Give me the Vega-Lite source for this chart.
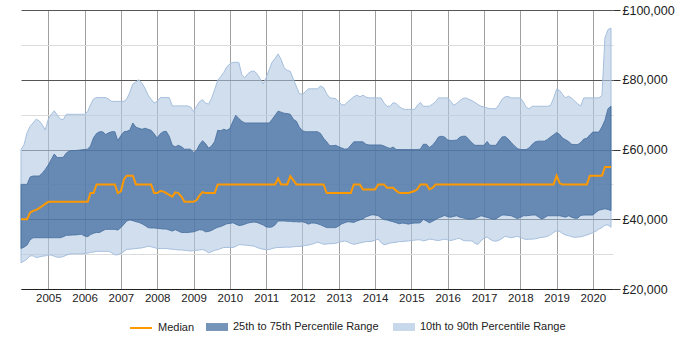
{
  "$schema": "https://vega.github.io/schema/vega-lite/v6.json",
  "width": 592,
  "height": 279,
  "autosize": {"type": "none"},
  "padding": {"left": 21, "top": 10, "right": 87, "bottom": 61},
  "background": "white",
  "config": {
    "view": {"stroke": null},
    "axisY": {
      "orient": "right", "title": null, "domain": false,
      "values": [20000,24000,28000,32000,36000,40000,44000,48000,52000,56000,60000,64000,68000,72000,76000,80000,84000,88000,92000,96000,100000],
      "labelExpr": "datum.value % 20000 === 0 ? '£' + format(datum.value, ',') : ''",
      "grid": true,
      "gridColor": {"condition": {"test": "datum.value % 20000 === 0", "value": "#555555"}, "value": "#dcdcdc"},
      "tickColor": {"condition": {"test": "datum.value % 20000 === 0", "value": "#333333"}, "value": "transparent"},
      "tickSize": 7,
      "labelFont": "Liberation Sans", "labelFontSize": 12.5, "labelColor": "#222222",
      "labelPadding": 2, "labelOverlap": false, "labelFlush": false
    },
    "legend": {
      "title": null, "orient": "none", "direction": "horizontal", "padding": 0,
      "labelFont": "Liberation Sans", "labelFontSize": 11, "labelColor": "#222222",
      "labelOffset": 5, "columnPadding": 14, "symbolSize": 484, "legendY": 306
    }
  },
  "data": {"values": [
    {"date":"2004-04-01","p10":27500,"p25":31600,"med":40000,"p75":50000,"p90":60000},
    {"date":"2004-05-01","p10":28000,"p25":32000,"med":40000,"p75":50000,"p90":61300},
    {"date":"2004-06-01","p10":28600,"p25":32600,"med":40000,"p75":50000,"p90":64800},
    {"date":"2004-07-01","p10":29500,"p25":34100,"med":41900,"p75":52100,"p90":66600},
    {"date":"2004-08-01","p10":29500,"p25":34700,"med":42400,"p75":52400,"p90":67600},
    {"date":"2004-09-01","p10":29000,"p25":34700,"med":42700,"p75":52400,"p90":68700},
    {"date":"2004-10-01","p10":29200,"p25":34700,"med":43200,"p75":52400,"p90":68200},
    {"date":"2004-11-01","p10":29400,"p25":34700,"med":43800,"p75":53200,"p90":67100},
    {"date":"2004-12-01","p10":29500,"p25":34700,"med":44400,"p75":54300,"p90":65600},
    {"date":"2005-01-01","p10":29800,"p25":34700,"med":45000,"p75":55600,"p90":68700},
    {"date":"2005-02-01","p10":29700,"p25":34700,"med":45000,"p75":57200,"p90":70100},
    {"date":"2005-03-01","p10":29400,"p25":34700,"med":45000,"p75":58700,"p90":71100},
    {"date":"2005-04-01","p10":29100,"p25":34700,"med":45000,"p75":57700,"p90":69900},
    {"date":"2005-05-01","p10":29100,"p25":34700,"med":45000,"p75":57700,"p90":68700},
    {"date":"2005-06-01","p10":29300,"p25":35000,"med":45000,"p75":57800,"p90":68600},
    {"date":"2005-07-01","p10":29700,"p25":35400,"med":45000,"p75":59000,"p90":70100},
    {"date":"2005-08-01","p10":30000,"p25":35400,"med":45000,"p75":59600,"p90":70100},
    {"date":"2005-09-01","p10":30100,"p25":35500,"med":45000,"p75":59700,"p90":70100},
    {"date":"2005-10-01","p10":30100,"p25":35500,"med":45000,"p75":59700,"p90":70100},
    {"date":"2005-11-01","p10":30100,"p25":35600,"med":45000,"p75":59800,"p90":70100},
    {"date":"2005-12-01","p10":30100,"p25":35700,"med":45000,"p75":59900,"p90":70100},
    {"date":"2006-01-01","p10":30200,"p25":35200,"med":45000,"p75":60000,"p90":70100},
    {"date":"2006-02-01","p10":30300,"p25":35000,"med":45000,"p75":60100,"p90":70900},
    {"date":"2006-03-01","p10":30500,"p25":35600,"med":47500,"p75":61000,"p90":72800},
    {"date":"2006-04-01","p10":30600,"p25":36000,"med":47500,"p75":63400,"p90":74500},
    {"date":"2006-05-01","p10":30800,"p25":36200,"med":50000,"p75":64600,"p90":74900},
    {"date":"2006-06-01","p10":30800,"p25":36200,"med":50000,"p75":65100,"p90":74900},
    {"date":"2006-07-01","p10":30800,"p25":36700,"med":50000,"p75":65100,"p90":74900},
    {"date":"2006-08-01","p10":30800,"p25":37100,"med":50000,"p75":64300,"p90":74900},
    {"date":"2006-09-01","p10":30800,"p25":37100,"med":50000,"p75":64800,"p90":74400},
    {"date":"2006-10-01","p10":30400,"p25":37100,"med":50000,"p75":65100,"p90":73800},
    {"date":"2006-11-01","p10":29800,"p25":37100,"med":50000,"p75":65100,"p90":73800},
    {"date":"2006-12-01","p10":29800,"p25":36900,"med":47500,"p75":62500,"p90":73800},
    {"date":"2007-01-01","p10":30200,"p25":37600,"med":48000,"p75":64000,"p90":73800},
    {"date":"2007-02-01","p10":30800,"p25":38600,"med":51500,"p75":65100,"p90":73800},
    {"date":"2007-03-01","p10":31400,"p25":39500,"med":52500,"p75":65200,"p90":74500},
    {"date":"2007-04-01","p10":31400,"p25":39800,"med":52500,"p75":65600,"p90":76400},
    {"date":"2007-05-01","p10":31500,"p25":39600,"med":52500,"p75":67600,"p90":78800},
    {"date":"2007-06-01","p10":31600,"p25":39300,"med":50000,"p75":66400,"p90":79400},
    {"date":"2007-07-01","p10":31700,"p25":39100,"med":50000,"p75":66100,"p90":80000},
    {"date":"2007-08-01","p10":31800,"p25":38700,"med":50000,"p75":65800,"p90":79000},
    {"date":"2007-09-01","p10":32000,"p25":38200,"med":50000,"p75":66100,"p90":77500},
    {"date":"2007-10-01","p10":32300,"p25":37600,"med":50000,"p75":65800,"p90":75600},
    {"date":"2007-11-01","p10":32100,"p25":37500,"med":50000,"p75":65500,"p90":74400},
    {"date":"2007-12-01","p10":31900,"p25":37500,"med":47500,"p75":64500,"p90":73300},
    {"date":"2008-01-01","p10":31600,"p25":37400,"med":47500,"p75":63300,"p90":73800},
    {"date":"2008-02-01","p10":31600,"p25":37300,"med":48100,"p75":64500,"p90":74900},
    {"date":"2008-03-01","p10":31600,"p25":37200,"med":48000,"p75":65100,"p90":74900},
    {"date":"2008-04-01","p10":31600,"p25":37200,"med":47500,"p75":65200,"p90":74900},
    {"date":"2008-05-01","p10":31500,"p25":36900,"med":47000,"p75":63800,"p90":74900},
    {"date":"2008-06-01","p10":31400,"p25":36600,"med":46500,"p75":61200,"p90":72500},
    {"date":"2008-07-01","p10":31300,"p25":37000,"med":47700,"p75":60800,"p90":72500},
    {"date":"2008-08-01","p10":31200,"p25":36600,"med":47500,"p75":61200,"p90":72500},
    {"date":"2008-09-01","p10":31200,"p25":36200,"med":46500,"p75":60800,"p90":72500},
    {"date":"2008-10-01","p10":31100,"p25":36200,"med":45000,"p75":60100,"p90":72500},
    {"date":"2008-11-01","p10":31000,"p25":36200,"med":45000,"p75":60100,"p90":72500},
    {"date":"2008-12-01","p10":30900,"p25":36300,"med":45000,"p75":60100,"p90":72200},
    {"date":"2009-01-01","p10":31000,"p25":36400,"med":45000,"p75":59100,"p90":70900},
    {"date":"2009-02-01","p10":31100,"p25":36700,"med":45500,"p75":59800,"p90":72400},
    {"date":"2009-03-01","p10":31200,"p25":37000,"med":46800,"p75":61400,"p90":73700},
    {"date":"2009-04-01","p10":31300,"p25":36900,"med":47800,"p75":62500,"p90":74300},
    {"date":"2009-05-01","p10":31000,"p25":36400,"med":47500,"p75":61700,"p90":73300},
    {"date":"2009-06-01","p10":30400,"p25":36500,"med":47500,"p75":60400,"p90":73000},
    {"date":"2009-07-01","p10":30700,"p25":36800,"med":47500,"p75":61000,"p90":74600},
    {"date":"2009-08-01","p10":31100,"p25":37300,"med":47500,"p75":62300,"p90":77200},
    {"date":"2009-09-01","p10":31300,"p25":37700,"med":50000,"p75":65500,"p90":79800},
    {"date":"2009-10-01","p10":31600,"p25":37900,"med":50000,"p75":65400,"p90":80900},
    {"date":"2009-11-01","p10":31900,"p25":38300,"med":50000,"p75":65800,"p90":82100},
    {"date":"2009-12-01","p10":31900,"p25":38700,"med":50000,"p75":65500,"p90":83700},
    {"date":"2010-01-01","p10":31900,"p25":38800,"med":50000,"p75":66000,"p90":84500},
    {"date":"2010-02-01","p10":31900,"p25":39000,"med":50000,"p75":68100,"p90":85000},
    {"date":"2010-03-01","p10":32200,"p25":38600,"med":50000,"p75":69800,"p90":85000},
    {"date":"2010-04-01","p10":32700,"p25":38200,"med":50000,"p75":68900,"p90":85000},
    {"date":"2010-05-01","p10":32700,"p25":38300,"med":50000,"p75":68100,"p90":81500},
    {"date":"2010-06-01","p10":32600,"p25":38600,"med":50000,"p75":67600,"p90":80600},
    {"date":"2010-07-01","p10":32500,"p25":38900,"med":50000,"p75":67600,"p90":81700},
    {"date":"2010-08-01","p10":32400,"p25":39100,"med":50000,"p75":67600,"p90":82400},
    {"date":"2010-09-01","p10":32300,"p25":39200,"med":50000,"p75":67600,"p90":82500},
    {"date":"2010-10-01","p10":31900,"p25":39100,"med":50000,"p75":67600,"p90":81700},
    {"date":"2010-11-01","p10":31600,"p25":38700,"med":50000,"p75":67600,"p90":80300},
    {"date":"2010-12-01","p10":31400,"p25":38400,"med":50000,"p75":67600,"p90":78800},
    {"date":"2011-01-01","p10":31300,"p25":37800,"med":50000,"p75":67600,"p90":80600},
    {"date":"2011-02-01","p10":31300,"p25":37700,"med":50000,"p75":67600,"p90":82900},
    {"date":"2011-03-01","p10":31600,"p25":37800,"med":50000,"p75":68600,"p90":85000},
    {"date":"2011-04-01","p10":31800,"p25":38400,"med":50000,"p75":69800,"p90":86100},
    {"date":"2011-05-01","p10":31900,"p25":39500,"med":51700,"p75":71000,"p90":87400},
    {"date":"2011-06-01","p10":31900,"p25":39500,"med":50000,"p75":70700,"p90":85800},
    {"date":"2011-07-01","p10":32000,"p25":39500,"med":50000,"p75":70400,"p90":83400},
    {"date":"2011-08-01","p10":32000,"p25":39400,"med":50000,"p75":70300,"p90":82700},
    {"date":"2011-09-01","p10":32000,"p25":39400,"med":52300,"p75":70100,"p90":82400},
    {"date":"2011-10-01","p10":32100,"p25":39300,"med":51200,"p75":68700,"p90":80200},
    {"date":"2011-11-01","p10":32200,"p25":39300,"med":50000,"p75":68100,"p90":78100},
    {"date":"2011-12-01","p10":32200,"p25":39200,"med":50000,"p75":66400,"p90":76000},
    {"date":"2012-01-01","p10":32300,"p25":39300,"med":50000,"p75":65400,"p90":75800},
    {"date":"2012-02-01","p10":32500,"p25":39000,"med":50000,"p75":65100,"p90":76600},
    {"date":"2012-03-01","p10":32600,"p25":38600,"med":50000,"p75":65100,"p90":77400},
    {"date":"2012-04-01","p10":32800,"p25":38900,"med":50000,"p75":65100,"p90":77400},
    {"date":"2012-05-01","p10":33100,"p25":38900,"med":50000,"p75":65100,"p90":77400},
    {"date":"2012-06-01","p10":33400,"p25":38700,"med":50000,"p75":65100,"p90":77400},
    {"date":"2012-07-01","p10":33200,"p25":38400,"med":50000,"p75":64600,"p90":78200},
    {"date":"2012-08-01","p10":32800,"p25":38000,"med":50000,"p75":63200,"p90":77700},
    {"date":"2012-09-01","p10":32900,"p25":37600,"med":47500,"p75":62200,"p90":76000},
    {"date":"2012-10-01","p10":33000,"p25":37600,"med":47500,"p75":61100,"p90":74800},
    {"date":"2012-11-01","p10":33000,"p25":37600,"med":47500,"p75":61100,"p90":74700},
    {"date":"2012-12-01","p10":33100,"p25":37600,"med":47500,"p75":61200,"p90":74600},
    {"date":"2013-01-01","p10":33400,"p25":38100,"med":47500,"p75":60800,"p90":73700},
    {"date":"2013-02-01","p10":33600,"p25":38700,"med":47500,"p75":60400,"p90":72800},
    {"date":"2013-03-01","p10":33800,"p25":39000,"med":47500,"p75":60100,"p90":72800},
    {"date":"2013-04-01","p10":33500,"p25":39300,"med":47500,"p75":60200,"p90":73700},
    {"date":"2013-05-01","p10":33100,"p25":39200,"med":47500,"p75":61200,"p90":74400},
    {"date":"2013-06-01","p10":32800,"p25":39100,"med":50000,"p75":62200,"p90":75100},
    {"date":"2013-07-01","p10":33000,"p25":39500,"med":50000,"p75":62200,"p90":75600},
    {"date":"2013-08-01","p10":33200,"p25":39800,"med":50000,"p75":62200,"p90":75100},
    {"date":"2013-09-01","p10":33400,"p25":40100,"med":48500,"p75":62200,"p90":75600},
    {"date":"2013-10-01","p10":33600,"p25":40700,"med":48500,"p75":61500,"p90":75000},
    {"date":"2013-11-01","p10":33600,"p25":41000,"med":48500,"p75":61300,"p90":74800},
    {"date":"2013-12-01","p10":33700,"p25":41300,"med":48500,"p75":61300,"p90":74800},
    {"date":"2014-01-01","p10":34000,"p25":41200,"med":48500,"p75":61300,"p90":74800},
    {"date":"2014-02-01","p10":34300,"p25":41000,"med":50000,"p75":61300,"p90":74800},
    {"date":"2014-03-01","p10":33300,"p25":40400,"med":50000,"p75":61300,"p90":74800},
    {"date":"2014-04-01","p10":32700,"p25":39900,"med":50000,"p75":61000,"p90":73300},
    {"date":"2014-05-01","p10":32900,"p25":39800,"med":49000,"p75":60600,"p90":72400},
    {"date":"2014-06-01","p10":33200,"p25":39500,"med":49000,"p75":60300,"p90":72400},
    {"date":"2014-07-01","p10":33300,"p25":39300,"med":49000,"p75":60700,"p90":73400},
    {"date":"2014-08-01","p10":33400,"p25":39000,"med":48200,"p75":60000,"p90":73200},
    {"date":"2014-09-01","p10":33600,"p25":38700,"med":47600,"p75":60000,"p90":72300},
    {"date":"2014-10-01","p10":33600,"p25":38900,"med":47500,"p75":60000,"p90":71700},
    {"date":"2014-11-01","p10":33700,"p25":38800,"med":47500,"p75":60000,"p90":71500},
    {"date":"2014-12-01","p10":33800,"p25":38600,"med":47500,"p75":60000,"p90":71500},
    {"date":"2015-01-01","p10":33900,"p25":38800,"med":47800,"p75":60000,"p90":71500},
    {"date":"2015-02-01","p10":34000,"p25":38900,"med":48100,"p75":60000,"p90":71500},
    {"date":"2015-03-01","p10":34100,"p25":38900,"med":48600,"p75":60000,"p90":72600},
    {"date":"2015-04-01","p10":34100,"p25":39000,"med":50000,"p75":60100,"p90":73500},
    {"date":"2015-05-01","p10":33800,"p25":40000,"med":50000,"p75":61500,"p90":72400},
    {"date":"2015-06-01","p10":34000,"p25":39500,"med":50000,"p75":61500,"p90":72400},
    {"date":"2015-07-01","p10":34300,"p25":39000,"med":48600,"p75":60600,"p90":72400},
    {"date":"2015-08-01","p10":34200,"p25":39400,"med":49000,"p75":61200,"p90":73000},
    {"date":"2015-09-01","p10":34000,"p25":39900,"med":50000,"p75":62300,"p90":73700},
    {"date":"2015-10-01","p10":33900,"p25":40400,"med":50000,"p75":63600,"p90":74800},
    {"date":"2015-11-01","p10":34100,"p25":40700,"med":50000,"p75":63800,"p90":74800},
    {"date":"2015-12-01","p10":34300,"p25":41100,"med":50000,"p75":63600,"p90":74800},
    {"date":"2016-01-01","p10":34100,"p25":40700,"med":50000,"p75":62700,"p90":74800},
    {"date":"2016-02-01","p10":33900,"p25":40600,"med":50000,"p75":62600,"p90":73800},
    {"date":"2016-03-01","p10":34100,"p25":40800,"med":50000,"p75":62600,"p90":72700},
    {"date":"2016-04-01","p10":34400,"p25":41000,"med":50000,"p75":62700,"p90":73200},
    {"date":"2016-05-01","p10":34500,"p25":40600,"med":50000,"p75":63500,"p90":74000},
    {"date":"2016-06-01","p10":34000,"p25":40400,"med":50000,"p75":63800,"p90":74600},
    {"date":"2016-07-01","p10":33800,"p25":40200,"med":50000,"p75":63800,"p90":74800},
    {"date":"2016-08-01","p10":33800,"p25":40000,"med":50000,"p75":62900,"p90":74400},
    {"date":"2016-09-01","p10":33800,"p25":40100,"med":50000,"p75":61900,"p90":74000},
    {"date":"2016-10-01","p10":33100,"p25":40200,"med":50000,"p75":61200,"p90":73500},
    {"date":"2016-11-01","p10":32800,"p25":40600,"med":50000,"p75":61200,"p90":72900},
    {"date":"2016-12-01","p10":33800,"p25":41000,"med":50000,"p75":61200,"p90":72400},
    {"date":"2017-01-01","p10":34600,"p25":40800,"med":50000,"p75":61200,"p90":72200},
    {"date":"2017-02-01","p10":34900,"p25":40500,"med":50000,"p75":62300,"p90":71900},
    {"date":"2017-03-01","p10":34300,"p25":40300,"med":50000,"p75":61200,"p90":71700},
    {"date":"2017-04-01","p10":33800,"p25":40000,"med":50000,"p75":61200,"p90":71700},
    {"date":"2017-05-01","p10":33700,"p25":40100,"med":50000,"p75":61200,"p90":71700},
    {"date":"2017-06-01","p10":34000,"p25":40700,"med":50000,"p75":62500,"p90":72900},
    {"date":"2017-07-01","p10":34500,"p25":41200,"med":50000,"p75":63600,"p90":74400},
    {"date":"2017-08-01","p10":35100,"p25":41200,"med":50000,"p75":63700,"p90":75100},
    {"date":"2017-09-01","p10":34900,"p25":41100,"med":50000,"p75":63000,"p90":75200},
    {"date":"2017-10-01","p10":34700,"p25":41000,"med":50000,"p75":62000,"p90":74800},
    {"date":"2017-11-01","p10":34900,"p25":40600,"med":50000,"p75":61100,"p90":74800},
    {"date":"2017-12-01","p10":35100,"p25":40200,"med":50000,"p75":60300,"p90":74800},
    {"date":"2018-01-01","p10":34800,"p25":40500,"med":50000,"p75":60000,"p90":74800},
    {"date":"2018-02-01","p10":34400,"p25":41000,"med":50000,"p75":60000,"p90":73600},
    {"date":"2018-03-01","p10":34200,"p25":41000,"med":50000,"p75":60000,"p90":72100},
    {"date":"2018-04-01","p10":34300,"p25":41100,"med":50000,"p75":60500,"p90":71700},
    {"date":"2018-05-01","p10":34300,"p25":41200,"med":50000,"p75":61500,"p90":72400},
    {"date":"2018-06-01","p10":34400,"p25":41200,"med":50000,"p75":62200,"p90":72400},
    {"date":"2018-07-01","p10":34600,"p25":40700,"med":50000,"p75":62400,"p90":72400},
    {"date":"2018-08-01","p10":34800,"p25":40100,"med":50000,"p75":62400,"p90":72400},
    {"date":"2018-09-01","p10":34900,"p25":40400,"med":50000,"p75":62400,"p90":72400},
    {"date":"2018-10-01","p10":35100,"p25":41000,"med":50000,"p75":62900,"p90":72400},
    {"date":"2018-11-01","p10":35600,"p25":41000,"med":50000,"p75":63600,"p90":72600},
    {"date":"2018-12-01","p10":36200,"p25":41000,"med":50000,"p75":64200,"p90":74700},
    {"date":"2019-01-01","p10":36700,"p25":41000,"med":52500,"p75":64900,"p90":77300},
    {"date":"2019-02-01","p10":36500,"p25":41000,"med":50300,"p75":64300,"p90":76900},
    {"date":"2019-03-01","p10":35900,"p25":40800,"med":50000,"p75":63300,"p90":75800},
    {"date":"2019-04-01","p10":35500,"p25":40600,"med":50000,"p75":62800,"p90":74800},
    {"date":"2019-05-01","p10":35300,"p25":41000,"med":50000,"p75":62300,"p90":75300},
    {"date":"2019-06-01","p10":35000,"p25":40600,"med":50000,"p75":61500,"p90":74700},
    {"date":"2019-07-01","p10":34800,"p25":40300,"med":50000,"p75":61400,"p90":73900},
    {"date":"2019-08-01","p10":34900,"p25":40300,"med":50000,"p75":61400,"p90":73100},
    {"date":"2019-09-01","p10":35000,"p25":41100,"med":50000,"p75":62000,"p90":72500},
    {"date":"2019-10-01","p10":35200,"p25":41200,"med":50000,"p75":63000,"p90":74800},
    {"date":"2019-11-01","p10":35500,"p25":41200,"med":50000,"p75":63200,"p90":74800},
    {"date":"2019-12-01","p10":35800,"p25":41200,"med":52500,"p75":64200,"p90":74800},
    {"date":"2020-01-01","p10":36200,"p25":41200,"med":52500,"p75":65000,"p90":74800},
    {"date":"2020-02-01","p10":36600,"p25":42000,"med":52500,"p75":65000,"p90":74800},
    {"date":"2020-03-01","p10":37200,"p25":42600,"med":52500,"p75":65000,"p90":74800},
    {"date":"2020-04-01","p10":37600,"p25":42800,"med":52500,"p75":66500,"p90":75500},
    {"date":"2020-05-01","p10":38300,"p25":43000,"med":55000,"p75":68400,"p90":92000},
    {"date":"2020-06-01","p10":38400,"p25":42800,"med":55000,"p75":71700,"p90":94400},
    {"date":"2020-07-01","p10":37700,"p25":42500,"med":55000,"p75":72400,"p90":94800}
  ]},
  "encoding": {
    "x": {
      "field": "date", "type": "temporal",
      "scale": {"type": "utc", "domain": ["2004-04-01", "2020-07-21"], "nice": false},
      "axis": {
        "orient": "bottom", "title": null, "format": "%Y",
        "tickCount": {"interval": "year", "step": 1},
        "grid": true, "gridColor": "#a0a0a0", "gridWidth": 1,
        "ticks": false, "domainColor": "#222222",
        "labelFont": "Liberation Sans", "labelFontSize": 11.5, "labelColor": "#222222",
        "labelPadding": 3, "labelFlush": false, "labelOverlap": false
      }
    }
  },
  "layer": [
    {
      "mark": {"type": "area", "fillOpacity": 0.6, "stroke": "#a5bfdd", "strokeWidth": 1},
      "encoding": {
        "y": {
          "field": "p90", "type": "quantitative", "title": null,
          "scale": {"domain": [20000, 100000], "nice": false, "zero": false}
        },
        "y2": {"field": "p10"},
        "fill": {
          "datum": "10th to 90th Percentile Range",
          "scale": {"domain": ["25th to 75th Percentile Range", "10th to 90th Percentile Range"], "range": ["#3b669b", "#b0c8e3"]},
          "legend": {
            "legendX": 185, "symbolType": "M-1,-0.36H1V0.36H-1Z",
            "symbolOpacity": 0.7, "symbolStrokeWidth": 0
          }
        }
      }
    },
    {
      "mark": {"type": "area", "fillOpacity": 0.7, "stroke": "#456d9c", "strokeWidth": 1, "strokeOpacity": 0.8},
      "encoding": {
        "y": {"field": "p75", "type": "quantitative", "title": null},
        "y2": {"field": "p25"},
        "fill": {"datum": "25th to 75th Percentile Range"}
      }
    },
    {
      "mark": {"type": "line", "strokeWidth": 2},
      "encoding": {
        "y": {"field": "med", "type": "quantitative", "title": null},
        "stroke": {
          "datum": "Median",
          "scale": {"domain": ["Median"], "range": ["#ff9900"]},
          "legend": {"legendX": 108, "symbolType": "stroke", "symbolStrokeWidth": 2}
        }
      }
    }
  ]
}
